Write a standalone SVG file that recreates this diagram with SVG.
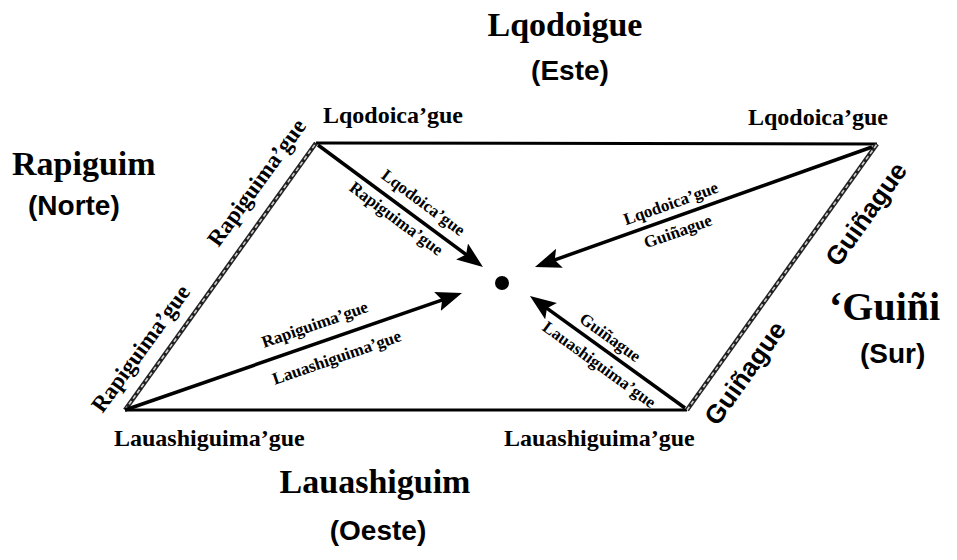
<svg xmlns="http://www.w3.org/2000/svg" width="957" height="560" viewBox="0 0 957 560">
<style>
.bg{fill:#fff}
.ser{font-family:"Liberation Serif","Times New Roman",serif;font-weight:bold;fill:#000}
.san{font-family:"Liberation Sans",Arial,sans-serif;font-weight:bold;fill:#000}
.title{font-size:34px}
.big{font-size:40px}
.dir{font-size:28px}
.corner{font-size:24px}
.side{font-size:23px}
.sideS{font-size:26px}
.lab{font-size:17px}
.edge{stroke:#000;stroke-width:3;fill:none}
.dbl{stroke:#222;stroke-width:4.5;fill:none}
.dblIn{stroke:#d0d0d0;stroke-width:1.6;stroke-dasharray:4 3;fill:none}
.arr{stroke:#000;stroke-width:3.5;fill:none;marker-end:url(#ah)}
</style>
<defs>
<marker id="ah" markerUnits="userSpaceOnUse" markerWidth="28" markerHeight="22" refX="13" refY="10" orient="auto">
<path d="M0,0 L26,10 L0,20 L5,10 z" fill="#000"/>
</marker>
</defs>
<rect class="bg" x="0" y="0" width="957" height="560"/>

<g id="connectors">
<path class="edge" d="M316,143 L877,144"/>
<path class="edge" d="M125,410 L687,410"/>
<path class="dbl" d="M125,410 L316,143"/>
<path class="dblIn" d="M125,410 L316,143"/>
<path class="dbl" d="M687,410 L877,144"/>
<path class="dblIn" d="M687,410 L877,144"/>
<path class="arr" d="M318,145 L472.5,259.3"/>
<path class="arr" d="M872,147 L547.2,262.6"/>
<path class="arr" d="M125,410 L449.7,297.3"/>
<path class="arr" d="M685,408 L540.5,303.6"/>
<text class="ser lab" text-anchor="middle" transform="translate(420,207) rotate(36.5)">Lqodoica’gue</text>
<text class="ser lab" text-anchor="middle" transform="translate(393,223) rotate(36.5)">Rapiguima’gue</text>
<text class="ser lab" text-anchor="middle" transform="translate(672.7,208.7) rotate(-19.6)">Lqodoica’gue</text>
<text class="ser lab" text-anchor="middle" transform="translate(679.7,236.7) rotate(-19.6)">Guiñague</text>
<text class="ser lab" text-anchor="middle" transform="translate(316.6,329.7) rotate(-19.1)">Rapiguima’gue</text>
<text class="ser lab" text-anchor="middle" transform="translate(338.6,362.7) rotate(-19.1)">Lauashiguima’gue</text>
<text class="ser lab" text-anchor="middle" transform="translate(607,342) rotate(35.9)">Guiñague</text>
<text class="ser lab" text-anchor="middle" transform="translate(596,369) rotate(35.9)">Lauashiguima’gue</text>
</g>

<g id="center">
<circle cx="502" cy="283" r="7" fill="#000"/>
</g>

<g id="corner-tl">
<text class="ser corner" x="323" y="123">Lqodoica’gue</text>
</g>
<g id="corner-tr">
<text class="ser corner" x="748" y="125">Lqodoica’gue</text>
</g>
<g id="corner-bl">
<text class="ser corner" x="114" y="446">Lauashiguima’gue</text>
</g>
<g id="corner-br">
<text class="ser corner" x="504" y="446">Lauashiguima’gue</text>
</g>

<g id="side-left">
<text class="ser side" text-anchor="middle" transform="translate(262.7,187.1) rotate(-54)">Rapiguima’gue</text>
<text class="ser side" text-anchor="middle" transform="translate(146.7,353.1) rotate(-54)">Rapiguima’gue</text>
</g>
<g id="side-right">
<text class="san sideS" text-anchor="middle" transform="translate(873.3,219.2) rotate(-54.5)">Guiñague</text>
<text class="san sideS" text-anchor="middle" transform="translate(752.3,378.2) rotate(-54.5)">Guiñague</text>
</g>

<g id="este">
<text class="ser title" text-anchor="middle" x="565" y="36">Lqodoigue</text>
<text class="san dir" text-anchor="middle" x="570" y="80">(Este)</text>
</g>
<g id="norte">
<text class="ser title" x="12" y="175">Rapiguim</text>
<text class="san dir" x="28" y="215">(Norte)</text>
</g>
<g id="sur">
<text class="ser big" x="829" y="320">‘Guiñi</text>
<text class="san dir" x="860" y="363">(Sur)</text>
</g>
<g id="oeste">
<text class="ser title" text-anchor="middle" x="375" y="493">Lauashiguim</text>
<text class="san dir" text-anchor="middle" x="378" y="540">(Oeste)</text>
</g>
</svg>
